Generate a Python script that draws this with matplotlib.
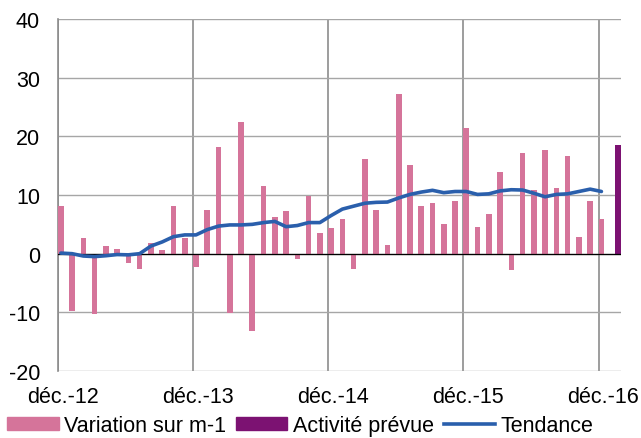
import numpy as np
import matplotlib.pyplot as plt
from matplotlib.patches import Patch
from matplotlib.lines import Line2D

plt.rcParams['font.family'] = ['Liberation Sans', 'DejaVu Sans']
plt.rcParams['axes.unicode_minus'] = False

# monthly change, déc.-12 .. déc.-16
variation = [8.1, -9.8, 2.7, -10.3, 1.25, 0.8, -1.6, -2.6, 1.8, 0.6, 8.2, 2.6,
             -2.3, 7.4, 18.2, -10.1, 22.4, -13.2, 11.6, 6.25, 7.2, -0.9, 9.9, 3.5,
             4.3, 5.85, -2.6, 16.1, 7.5, 1.5, 27.3, 15.2, 8.1, 8.7, 5.0, 8.9,
             21.4, 4.6, 6.7, 14.0, -2.8, 17.1, 10.8, 17.6, 11.2, 16.7, 2.9, 9.0,
             5.9]
tendance = [0.1, 0.0, -0.4, -0.5, -0.35, -0.15, -0.2, 0.0, 1.3, 2.0, 2.9, 3.2,
            3.2, 4.1, 4.7, 4.9, 4.9, 5.0, 5.3, 5.5, 4.6, 4.8, 5.3, 5.3,
            6.5, 7.6, 8.1, 8.6, 8.75, 8.8, 9.5, 10.1, 10.5, 10.8, 10.4, 10.6,
            10.6, 10.1, 10.2, 10.7, 10.9, 10.85, 10.3, 9.7, 10.1, 10.2, 10.6, 11.0,
            10.6]
activite_prevue = 18.6
year_labels = ['déc.-12', 'déc.-13', 'déc.-14', 'déc.-15', 'déc.-16']

pink = '#D5749A'
purple = '#7C1272'
blue = '#2A5FAC'

fig = plt.figure(figsize=(6.41, 4.39), dpi=100)
ax = fig.add_axes([0.0905, 0.1526, 0.8785, 0.8018])

x = np.arange(len(variation))
ax.bar(x, variation, width=0.5, color=pink, zorder=3)
ax.bar(len(variation) + 0.5, activite_prevue, width=0.53, color=purple, zorder=3)
ax.plot(x, tendance, color=blue, lw=2.6, zorder=4, solid_capstyle='round')
ax.axhline(0, color='black', lw=0.9, zorder=3)

ax.set_ylim(-20, 40)
ax.set_yticks(range(-20, 41, 10))
ax.set_xlim(-0.25, 49.75)

ax.set_xticks([12 * k + 0.15 for k in range(5)])
ax.set_xticklabels(year_labels)
ax.set_xticks([12 * k - 0.25 for k in range(5)], minor=True)
ax.tick_params(which='both', length=0, labelsize=15.5)
ax.tick_params(axis='x', pad=10.5)
ax.tick_params(axis='y', pad=13)
ax.grid(axis='y', color='#A6A6A6', lw=1.0, zorder=0)
ax.grid(axis='x', which='minor', color='#8C8C8C', lw=1.2, zorder=0)

for s in ['top', 'right', 'bottom']:
    ax.spines[s].set_visible(False)
ax.spines['left'].set_color('#8C8C8C')
ax.spines['left'].set_linewidth(1.2)

handles = [Patch(color=pink), Patch(color=purple), Line2D([], [], color=blue, lw=2.6)]
fig.legend(handles, ['Variation sur m-1', 'Activité prévue', 'Tendance'],
           loc='lower left', bbox_to_anchor=(0.011, 0.004), ncol=3, frameon=False,
           fontsize=15.5, handlelength=2.4, handleheight=0.5, handletextpad=0.25,
           columnspacing=0.45, borderaxespad=0, borderpad=0)

fig.savefig('out.png', dpi=100)
